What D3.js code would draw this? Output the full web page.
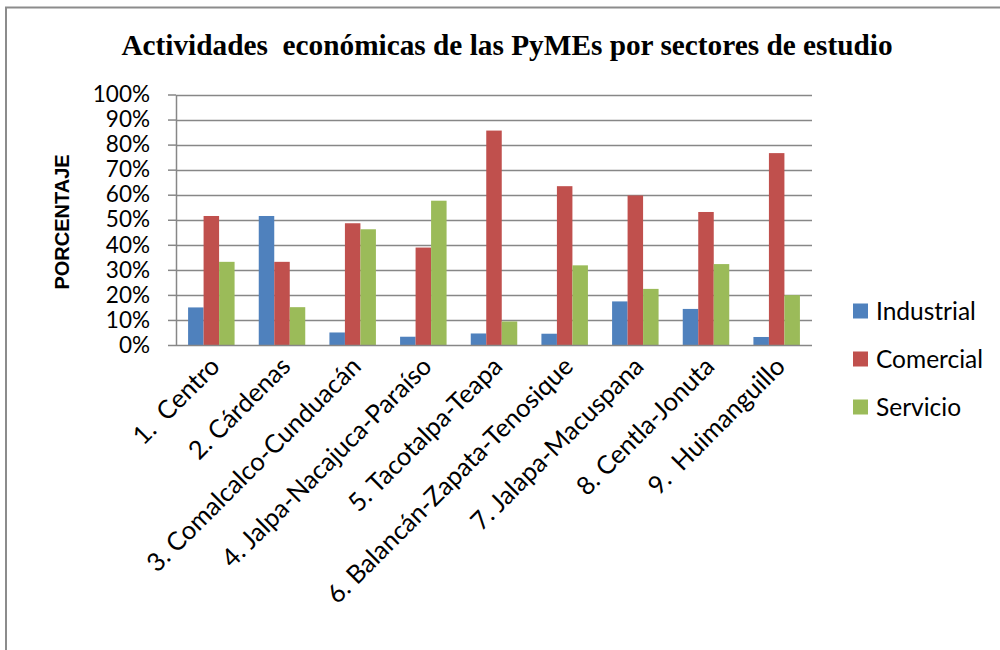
<!DOCTYPE html>
<html>
<head>
<meta charset="utf-8">
<script src="https://cdn.jsdelivr.net/npm/d3@7"></script>
<style>
  body { margin: 0; background: #fff; }
  svg { display: block; }
</style>
</head>
<body>
<div class="holder"></div>
<script>
var categories = ['1.  Centro', '2. Cárdenas', '3. Comalcalco-Cunduacán', '4. Jalpa-Nacajuca-Paraíso',
  '5. Tacotalpa-Teapa', '6. Balancán-Zapata-Tenosique', '7. Jalapa-Macuspana', '8. Centla-Jonuta', '9.  Huimanguillo']
var seriesNames = ['Industrial', 'Comercial', 'Servicio']
var industrial = [0.15, 0.515, 0.05, 0.033, 0.046, 0.045, 0.174, 0.144, 0.032]
var comercial  = [0.515, 0.332, 0.486, 0.389, 0.856, 0.634, 0.597, 0.531, 0.766]
var servicio   = [0.332, 0.151, 0.462, 0.576, 0.094, 0.318, 0.224, 0.323, 0.199]
var yTicks = [0, 0.1, 0.2, 0.3, 0.4, 0.5, 0.6, 0.7, 0.8, 0.9, 1]

var colors = ['#4f81bd', '#c0504d', '#9bbb59']
var seriesValues = [industrial, comercial, servicio]

var plotLeft = 176, plotRight = 812, plotTop = 94.5, plotBottom = 345

var chart = d3.select('.holder')
  .append('svg')
  .attr('width', 1000)
  .attr('height', 650)

// outer frame (only top and left edges show)
chart.append('path')
  .attr('d', 'M6,650 V7.5 H1000')
  .attr('fill', 'none')
  .attr('stroke', '#8c8c8c')
  .attr('stroke-width', 2)

chart.append('text')
  .text('Actividades  económicas de las PyMEs por sectores de estudio')
  .attr('x', 507)
  .attr('y', 55)
  .attr('text-anchor', 'middle')
  .style('font', 'bold 29.3px "Liberation Serif"')
  .style('white-space', 'pre')

var yScale = d3.scaleLinear()
  .domain([0, 1])
  .range([plotBottom, plotTop])

var xScale = d3.scaleBand()
  .domain(categories)
  .range([plotLeft, plotRight])
  .paddingInner(0.342)
  .paddingOuter(0.171)

var xSub = d3.scaleBand()
  .domain(seriesNames)
  .range([0, xScale.bandwidth()])

// gridlines
chart.append('g')
  .selectAll('line')
  .data(yTicks.slice(1))
  .enter()
  .append('line')
  .attr('x1', plotLeft)
  .attr('x2', plotRight)
  .attr('y1', function(d){ return Math.round(yScale(d)) + 0.5 })
  .attr('y2', function(d){ return Math.round(yScale(d)) + 0.5 })
  .attr('stroke', '#878787')
  .attr('stroke-width', 1.5)

var yAxis = d3.axisLeft(yScale)
  .tickValues(yTicks)
  .tickSizeInner(8)
  .tickSizeOuter(0)
  .tickPadding(18)
  .tickFormat(d3.format('.0%'))

var yChart = chart.append('g')
  .attr('transform', 'translate(' + plotLeft + ',0)')
  .call(yAxis)
yChart.selectAll('line, path').attr('stroke', '#878787').attr('stroke-width', 1.5)
yChart.selectAll('text')
  .style('font', '22.5px Lato')
  .attr('fill', '#000')

chart.append('text')
  .text('PORCENTAJE')
  .attr('transform', 'translate(69,222) rotate(-90)')
  .attr('text-anchor', 'middle')
  .style('font', 'bold 20px "Liberation Sans"')

// bars
var groups = chart.append('g')
  .selectAll('g')
  .data(categories)
  .enter()
  .append('g')
  .attr('transform', function(d){ return 'translate(' + xScale(d) + ',0)' })

groups.selectAll('rect')
  .data(function(d, i) {
    return seriesNames.map(function(s, j) { return { series: s, value: seriesValues[j][i], j: j } })
  })
  .enter()
  .append('rect')
  .attr('x', function(d){ return xSub(d.series) })
  .attr('y', function(d){ return yScale(d.value) })
  .attr('width', xSub.bandwidth())
  .attr('height', function(d){ return plotBottom - yScale(d.value) })
  .attr('fill', function(d){ return colors[d.j] })

// x axis line
chart.append('line')
  .attr('x1', plotLeft)
  .attr('x2', plotRight)
  .attr('y1', plotBottom + 0.5)
  .attr('y2', plotBottom + 0.5)
  .attr('stroke', '#878787')
  .attr('stroke-width', 1.5)

// x labels rotated
chart.append('g')
  .selectAll('text')
  .data(categories)
  .enter()
  .append('text')
  .text(function(d){ return d })
  .attr('text-anchor', 'end')
  .attr('transform', function(d){
    var cx = xScale(d) + xScale.bandwidth() / 2 + 10
    return 'translate(' + cx + ',368) rotate(-45)'
  })
  .style('font', '25.5px Lato')
  .style('white-space', 'pre')

// legend
var legend = chart.append('g')
  .selectAll('g')
  .data(seriesNames)
  .enter()
  .append('g')
  .attr('transform', function(d, i){ return 'translate(853,' + (311 + i * 48) + ')' })

legend.append('rect')
  .attr('x', 0)
  .attr('y', -7.5)
  .attr('width', 15)
  .attr('height', 15)
  .attr('fill', function(d, i){ return colors[i] })

legend.append('text')
  .text(function(d){ return d })
  .attr('x', 23)
  .attr('dy', '0.35em')
  .style('font', '24.5px Lato')
</script>
</body>
</html>
